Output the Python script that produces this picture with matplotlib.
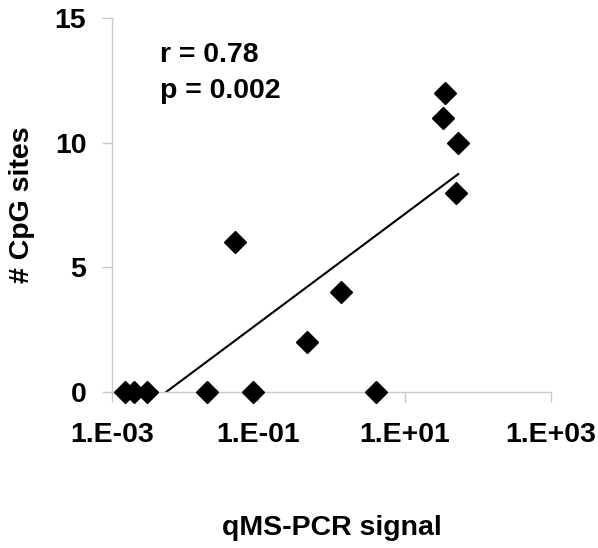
import numpy as np
import matplotlib.pyplot as plt

plt.rcParams['font.family'] = ['Liberation Sans', 'DejaVu Sans']
plt.rcParams['font.weight'] = 'bold'

# qMS-PCR signal (x, log scale) vs number of methylated CpG sites (y)
qms_signal = [0.0015, 0.002, 0.003, 0.02, 0.085, 4.0, 0.048, 0.46, 1.35, 36, 33, 54, 50]
cpg_sites = [0, 0, 0, 0, 0, 0, 6, 2, 4, 12, 11, 10, 8]

# trend line end points
trend_x = [0.0055, 54]
trend_y = [0, 8.74]

x_ticks = [1e-3, 1e-1, 1e1, 1e3]
x_tick_labels = ['1.E-03', '1.E-01', '1.E+01', '1.E+03']
y_ticks = [0, 5, 10, 15]

fs = 20.5

fig = plt.figure(figsize=(5.98, 5.48), dpi=100)
ax = fig.add_axes([112/598, 1 - 392/548, (551 - 112)/598, (392 - 18)/548])

ax.plot(trend_x, trend_y, color='black', lw=1.5, zorder=2)
ax.plot(qms_signal, cpg_sites, 'D', color='black', markersize=11, zorder=3, clip_on=False)

ax.set_xscale('log')
ax.set_xlim(1e-3, 1e3)
ax.set_ylim(0, 15)
ax.set_xticks(x_ticks)
ax.set_xticklabels(x_tick_labels)
ax.minorticks_off()
ax.set_yticks(y_ticks)

for s in ['top', 'right']:
    ax.spines[s].set_visible(False)
for s in ['left', 'bottom']:
    ax.spines[s].set_color('#c8c8c8')
    ax.spines[s].set_linewidth(1)
ax.tick_params(axis='both', colors='#c8c8c8', length=7.5, width=1, labelsize=fs,
               labelcolor='black')
ax.tick_params(axis='x', pad=14)
ax.tick_params(axis='y', pad=11)

ax.set_xlabel('qMS-PCR signal', fontsize=fs, fontweight='bold', va='baseline')
ax.xaxis.set_label_coords(0.5, -0.382)
ax.set_ylabel('# CpG sites', fontsize=fs, fontweight='bold', va='center')
ax.yaxis.set_label_coords(-0.205, 0.5)

ax.text(0.109, 0.882, 'r = 0.78', transform=ax.transAxes, fontsize=fs,
        fontweight='bold', va='baseline')
ax.text(0.109, 0.786, 'p = 0.002', transform=ax.transAxes, fontsize=fs,
        fontweight='bold', va='baseline')

fig.savefig('out.png', dpi=100)
